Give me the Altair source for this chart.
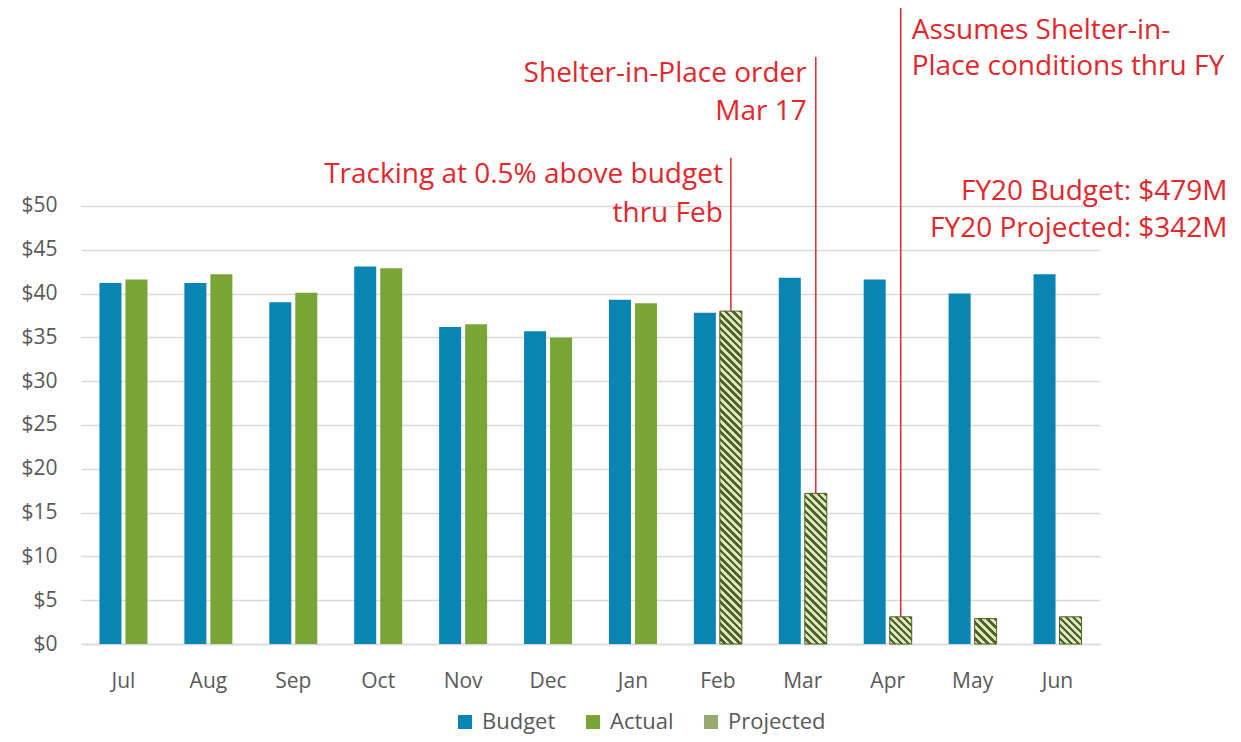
import math
import altair as alt
import pandas as pd

# ---------------- data ----------------
months = ["Jul", "Aug", "Sep", "Oct", "Nov", "Dec", "Jan", "Feb", "Mar", "Apr", "May", "Jun"]
budget = [41.2, 41.2, 39.0, 43.1, 36.2, 35.7, 39.3, 37.8, 41.8, 41.6, 40.0, 42.2]
actual_months = ["Jul", "Aug", "Sep", "Oct", "Nov", "Dec", "Jan"]
actual = [41.6, 42.2, 40.1, 42.9, 36.5, 35.0, 38.9]
projected_months = ["Feb", "Mar", "Apr", "May", "Jun"]
projected = [38.0, 17.2, 3.1, 2.9, 3.1]
series_names = ["Budget", "Actual", "Projected"]
y_ticks = [0, 5, 10, 15, 20, 25, 30, 35, 40, 45, 50]

note_month = ["Feb", "Feb", "Mar", "Mar", "Apr", "Apr", "Jun", "Jun"]
note_text = ["Tracking at 0.5% above budget", "thru Feb",
             "Shelter-in-Place order", "Mar 17",
             "Assumes Shelter-in-", "Place conditions thru FY",
             "FY20 Budget: $479M", "FY20 Projected: $342M"]
note_y = [52.6, 48.2, 64.2, 59.8, 69.1, 65.0, 50.7, 46.5]

line_month = ["Feb", "Mar", "Apr"]
line_top = [55.5, 67.0, 72.6]

# ---------------- styling ----------------
BLUE = "#0A84B2"
GREEN = "#78A535"
MID = "#98A870"
DARK = "#4F6228"
LIGHT = "#DCE7C0"
RED = "#E4262B"
GRAY = "#595959"
GRID = "#D9D9D9"
FONT = "Open Sans"

W, H = 1019, 636
YMAX = 72.6
PX = H / YMAX
BAR_W = 22
PERIOD = 5.2

rows = []
for m, v in zip(months, budget):
    rows.append({"month": m, "series": "Budget", "slot": "B", "value": v})
for m, v in zip(actual_months, actual):
    rows.append({"month": m, "series": "Actual", "slot": "A", "value": v})
for m, v in zip(projected_months, projected):
    rows.append({"month": m, "series": "Projected", "slot": "A", "value": v})
df = pd.DataFrame(rows)

proj_lookup = dict(zip(projected_months, projected))
lines_df = pd.DataFrame({"month": line_month, "slot": "A", "top": line_top,
                         "value": [proj_lookup[m] for m in line_month]})
notes_df = pd.DataFrame({"month": note_month, "slot": "A", "text": note_text, "ypos": note_y})

x_axis = alt.Axis(title=None, labelAngle=0, labelFont=FONT, labelFontSize=21, labelColor=GRAY,
                  ticks=False, tickSize=0, labelPadding=26, domain=True, domainColor=GRID,
                  domainWidth=1.5, grid=False)
y_axis = alt.Axis(title=None, values=y_ticks, labelExpr="'$' + datum.value", labelFont=FONT,
                  labelFontSize=21, labelColor=GRAY, ticks=False, tickSize=0, labelPadding=24,
                  domain=False, grid=True, gridColor=GRID, gridWidth=1.5)

x_scale = alt.Scale(domain=months, paddingInner=0.4347, paddingOuter=0.2174)
xo_scale = alt.Scale(domain=["B", "A"], paddingInner=0.1538, paddingOuter=0)
y_scale = alt.Scale(domain=[0, YMAX], nice=False, zero=True)

x_enc = alt.X("month:N", sort=months, scale=x_scale, axis=x_axis)
xo_enc = alt.XOffset("slot:N", scale=xo_scale)


def y_of(field):
    return alt.Y(f"{field}:Q", scale=y_scale, axis=y_axis)


bars = alt.Chart(df).mark_bar().encode(
    x=x_enc,
    xOffset=xo_enc,
    y=y_of("value"),
    color=alt.Color(
        "series:N",
        scale=alt.Scale(domain=series_names, range=[BLUE, GREEN, MID]),
        legend=alt.Legend(title=None, orient="none", legendX=373, legendY=703,
                          direction="horizontal", symbolType="square", symbolSize=196,
                          symbolStrokeWidth=0, labelFont=FONT, labelFontSize=22,
                          labelColor=GRAY, columnPadding=26, labelOffset=6),
    ),
)


def hatch_gradient(value):
    w = BAR_W
    h = value * PX
    k = (w + h) / (w * w + h * h)
    length = (w + h) / math.sqrt(2)
    n = max(1, int(round(length / PERIOD)))
    stops = []
    for i in range(n):
        a, b, c = i / n, (i + 0.5) / n, (i + 1) / n
        stops += [alt.GradientStop(offset=a, color=LIGHT), alt.GradientStop(offset=b, color=LIGHT),
                  alt.GradientStop(offset=b, color=DARK), alt.GradientStop(offset=c, color=DARK)]
    return alt.LinearGradient(gradient="linear", x1=0, y1=1, x2=k * w, y2=1 - k * h, stops=stops)


hatch_layers = []
for m, v in zip(projected_months, projected):
    hatch_layers.append(
        alt.Chart(df)
        .transform_filter((alt.datum.series == "Projected") & (alt.datum.month == m))
        .mark_bar(fill=hatch_gradient(v), stroke=DARK, strokeWidth=1)
        .encode(x=x_enc, xOffset=xo_enc, y=y_of("value"))
    )

rules = alt.Chart(lines_df).mark_rule(color=RED, strokeWidth=1.5).encode(
    x=x_enc, xOffset=xo_enc, y=y_of("top"), y2="value:Q"
)

note_style = {"Feb": ("right", -8), "Mar": ("right", -9), "Apr": ("left", 11), "Jun": ("right", 157)}
text_layers = []
for m, (al, dx) in note_style.items():
    text_layers.append(
        alt.Chart(notes_df)
        .transform_filter(alt.datum.month == m)
        .mark_text(align=al, baseline="alphabetic", dx=dx, font=FONT, fontSize=28, color=RED)
        .encode(x=x_enc, xOffset=xo_enc, y=y_of("ypos"), text="text:N")
    )

chart = (
    alt.layer(bars, *hatch_layers, rules, *text_layers)
    .properties(width=W, height=H,
                padding={"left": 73, "top": 0, "right": 133, "bottom": 90},
                autosize=alt.AutoSizeParams(type="none"))
    .configure(font=FONT)
    .configure_view(stroke=None)
)

chart.save("out.html", embed_options={"renderer": "svg", "actions": False})
